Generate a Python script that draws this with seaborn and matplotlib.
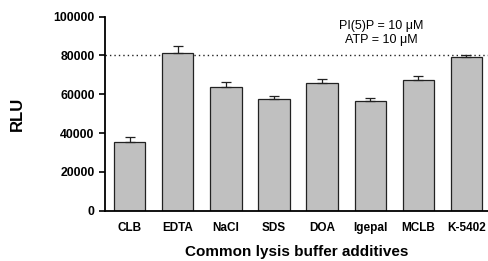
import pandas as pd
import seaborn as sns
import matplotlib.pyplot as plt
import numpy as np

# Values
additives = ["CLB", "EDTA", "NaCl", "SDS", "DOA", "Igepal", "MCLB", "K-5402"]
rlu_mean = [35600, 81100, 63900, 57400, 65700, 56700, 67400, 79100]
rlu_err = [2200, 3800, 2300, 1900, 2000, 1200, 1900, 1300]

df = pd.DataFrame({"additive": additives, "rlu": rlu_mean})

sns.set_style("ticks")
plt.rcParams["font.family"] = ["Liberation Sans", "DejaVu Sans"]
plt.rcParams["text.color"] = "black"
plt.rcParams["axes.labelcolor"] = "black"
plt.rcParams["xtick.color"] = "black"
plt.rcParams["ytick.color"] = "black"

fig = plt.figure(figsize=(4.89, 2.61), dpi=100)
ax = fig.add_axes([0.215, 0.193, 0.785, 0.743])

sns.barplot(x="additive", y="rlu", data=df, color="#c0c0c0", saturation=1,
            edgecolor="#222222", linewidth=0.9, width=0.65, errorbar=None, ax=ax)

# Upward-only error bars
ax.errorbar(np.arange(len(additives)), rlu_mean,
            yerr=[np.zeros(len(rlu_err)), rlu_err],
            fmt="none", ecolor="#222222", elinewidth=0.9, capsize=3.5, capthick=0.9)

# Reference line at 80000
ax.axhline(80000, color="#222222", linestyle=(0, (1, 2.2)), linewidth=1.0, zorder=0)

ax.text(0.72, 0.985, "PI(5)P = 10 \u03bcM\nATP = 10 \u03bcM", transform=ax.transAxes,
        ha="center", va="top", fontsize=9, linespacing=1.25)

ax.set_ylim(0, 100000)
ax.set_xlim(-0.51, 7.47)
ax.set_yticks([0, 20000, 40000, 60000, 80000, 100000])
ax.set_ylabel("RLU", fontsize=12, fontweight="bold")
ax.yaxis.set_label_coords(-0.208, 0.5)
ax.set_xlabel("Common lysis buffer additives", fontsize=11, fontweight="bold", va="center")
ax.xaxis.set_label_coords(0.5, -0.215)
ax.tick_params(axis="y", labelsize=8.8, width=1.2, length=4, direction="out")
ax.tick_params(axis="x", labelsize=8.5, length=0, pad=8)
for lbl in ax.get_xticklabels() + ax.get_yticklabels():
    lbl.set_fontweight("bold")
sns.despine(ax=ax)
ax.spines["left"].set_linewidth(1.3)
ax.spines["bottom"].set_linewidth(1.3)
ax.spines["left"].set_color("black")
ax.spines["bottom"].set_color("black")

plt.savefig("out.png", dpi=100)
plt.close()
